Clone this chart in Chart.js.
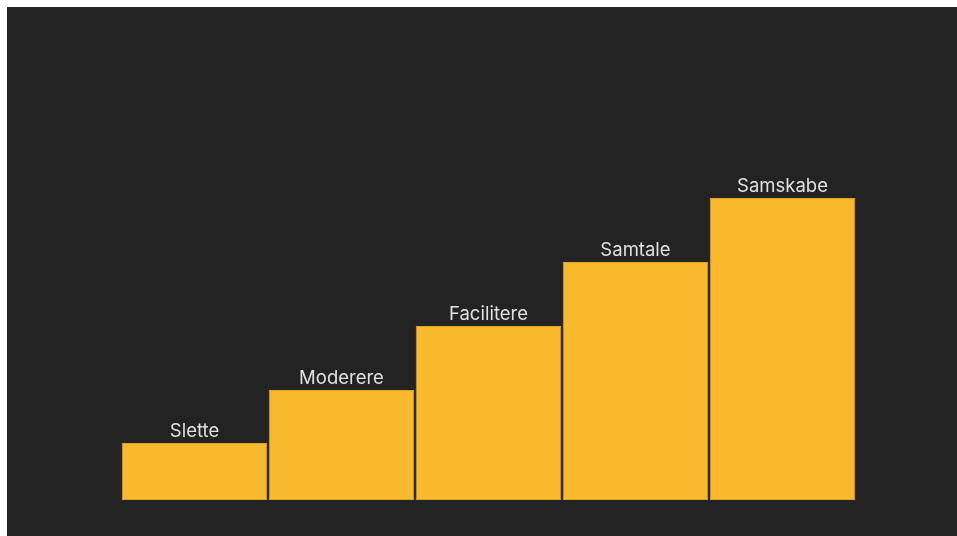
<!DOCTYPE html>
<html><head><meta charset="utf-8">
<script src="https://cdn.jsdelivr.net/npm/chart.js@4/dist/chart.umd.min.js"></script>
<style>
html,body{margin:0;padding:0;background:#ffffff;width:957px;height:536px;overflow:hidden}
#wrap{position:absolute;left:7px;top:7px;width:950px;height:529px;background:#232323}
canvas{display:block}
</style></head>
<body><div id="wrap"><canvas id="c" width="950" height="529"></canvas></div>
<script>
const categories = ["Slette","Moderere","Facilitere","Samtale","Samskabe"];
const values = [57, 110, 174, 238, 302];

const labelPlugin = {
  id: 'topLabels',
  afterDatasetsDraw(chart) {
    const ctx = chart.ctx;
    const meta = chart.getDatasetMeta(0);
    ctx.save();
    ctx.font = '18.5px Inter, "Liberation Sans", Arial, sans-serif';
    ctx.fillStyle = '#e0e0e0';
    ctx.textAlign = 'center';
    ctx.textBaseline = 'alphabetic';
    meta.data.forEach((bar, i) => {
      ctx.fillText(categories[i], bar.x, bar.y - 6);
    });
    ctx.restore();
  }
};

new Chart(document.getElementById('c'), {
  type: 'bar',
  data: {
    labels: categories,
    datasets: [{
      data: values,
      backgroundColor: '#F9B92C',
      borderColor: '#E2A522',
      borderWidth: 1,
      borderSkipped: false,
      categoryPercentage: 1.0,
      barPercentage: 0.99
    }]
  },
  options: {
    responsive: false,
    animation: false,
    events: [],
    layout: { padding: { left: 114, right: 101, top: 50, bottom: 36 } },
    plugins: { legend: { display: false }, tooltip: { enabled: false } },
    scales: {
      x: { display: false },
      y: { display: false, min: 0, max: 443 }
    }
  },
  plugins: [labelPlugin]
});
</script>
</body></html>
